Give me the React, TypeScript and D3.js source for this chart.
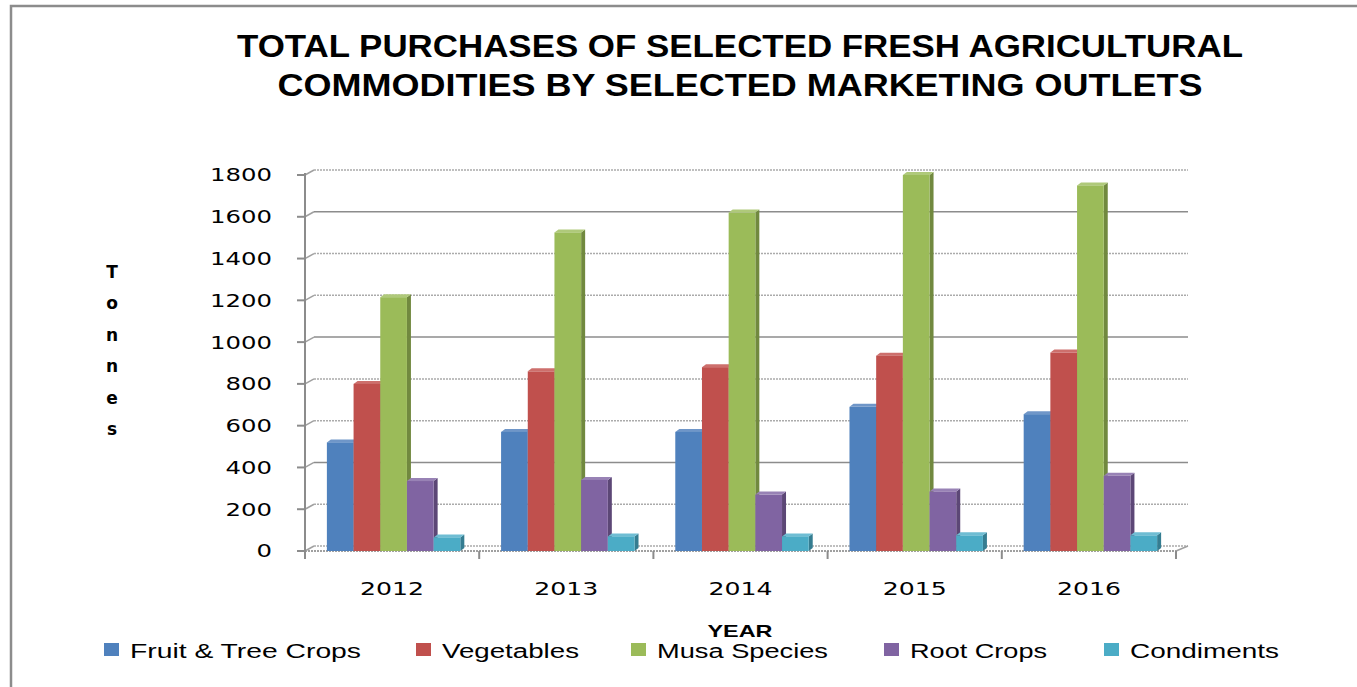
import * as d3 from "d3";

const years = ["2012", "2013", "2014", "2015", "2016"];
const seriesNames = ["Fruit & Tree Crops", "Vegetables", "Musa Species", "Root Crops", "Condiments"];
const fruitTree = [520, 570, 570, 690, 655];
const vegetables = [800, 860, 880, 935, 950];
const musa = [1215, 1525, 1620, 1800, 1750];
const rootCrops = [335, 340, 270, 285, 360];
const condiments = [65, 70, 70, 75, 75];
const yTicks = [0, 200, 400, 600, 800, 1000, 1200, 1400, 1600, 1800];
const titleLines = [
  "TOTAL PURCHASES OF SELECTED FRESH AGRICULTURAL",
  "COMMODITIES BY SELECTED MARKETING OUTLETS",
];

const seriesValues = [fruitTree, vegetables, musa, rootCrops, condiments];

// colors: front, side, top
const FRONT = ["#4f81bd", "#c0504d", "#9bbb59", "#8064a2", "#4bacc6"];
const SIDE = ["#385d8a", "#8c3836", "#71893f", "#5c4776", "#357d91"];
const TOP = ["#6f96c8", "#cd6f6c", "#afc97a", "#9882b5", "#6fbdd3"];

const W = 1357;
const H = 687;
const X0 = 305;
const X1 = 1176;
const DX = 9; // back wall offset
const DY = -5;
const BDX = 4; // bar depth
const BDY = -3;
const LEGEND_X = [104, 416, 631, 884, 1104];
const LEGEND_TEXT_W = [231, 137, 171, 137, 149];
const TICK_FONT = "'DejaVu Sans', Verdana, sans-serif";
const LABEL_FONT = "'Liberation Sans', Arial, sans-serif";

// grid lines that look solid in the original, the rest look dotted
const solidGrid = new Set([400, 1000, 1600]);

export default function App() {
  const y = d3.scaleLinear().domain([0, 1800]).range([551, 175]);
  const x = d3.scaleBand<string>().domain(years).range([X0, X1]).paddingInner(0.234).paddingOuter(0.117);
  const xs = d3.scaleBand<number>().domain(d3.range(seriesNames.length)).range([0, x.bandwidth()]);

  return (
    <svg width={W} height={H} style={{ position: "absolute", left: 0, top: 0, background: "#fff" }}>
      {/* frame */}
      <rect x={11} y={6} width={W + 20} height={H + 20} fill="none" stroke="#8c8c8c" strokeWidth={2.5} />

      {/* title */}
      {titleLines.map((t, i) => (
        <text
          key={t}
          x={740}
          y={57 + i * 39}
          textAnchor="middle"
          fontFamily={LABEL_FONT}
          fontWeight="bold"
          fontSize={32}
          textLength={i === 0 ? 1006 : 925}
          lengthAdjust="spacingAndGlyphs"
          fill="#000"
        >
          {t}
        </text>
      ))}

      {/* grid lines on back wall */}
      {yTicks.map((t) => (
        <g key={t}>
          <line
            x1={X0}
            x2={X0 + DX}
            y1={y(t)}
            y2={y(t) + DY}
            stroke="#a0a0a0"
            strokeWidth={1.5}
          />
          <line
            x1={X0 + DX}
            x2={X1 + 12}
            y1={y(t) + DY}
            y2={y(t) + DY}
            stroke={solidGrid.has(t) ? "#8c8c8c" : "#ababab"}
            strokeWidth={1.5}
            strokeDasharray={solidGrid.has(t) ? undefined : "2,1"}
          />
        </g>
      ))}

      {/* floor front edge */}
      <line x1={X0} x2={X1} y1={y(0)} y2={y(0)} stroke="#a0a0a0" strokeWidth={2} strokeDasharray="2,1" />
      <line x1={X1} x2={X1 + 12} y1={y(0)} y2={y(0) + DY} stroke="#a0a0a0" strokeWidth={1.5} />

      {/* bars */}
      {years.map((yr, ci) => (
        <g key={yr} transform={`translate(${(x(yr) ?? 0) + 1.5},0)`}>
          {seriesValues.map((vals, si) => {
            const v = vals[ci];
            const bx = xs(si) ?? 0;
            const bw = xs.bandwidth();
            const top = y(v);
            const bottom = y(0);
            return (
              <g key={si}>
                <polygon
                  points={`${bx + bw},${top} ${bx + bw + BDX},${top + BDY} ${bx + bw + BDX},${bottom + BDY} ${bx + bw},${bottom}`}
                  fill={SIDE[si]}
                />
                <polygon
                  points={`${bx},${top} ${bx + BDX},${top + BDY} ${bx + bw + BDX},${top + BDY} ${bx + bw},${top}`}
                  fill={TOP[si]}
                />
                <rect x={bx} y={top} width={bw} height={bottom - top} fill={FRONT[si]} />
              </g>
            );
          })}
        </g>
      ))}

      {/* y axis */}
      <line x1={X0} x2={X0} y1={y(1800) - 2} y2={y(0) + 3} stroke="#8c8c8c" strokeWidth={2} />
      {yTicks.map((t) => (
        <g key={t}>
          <line x1={X0 - 8} x2={X0} y1={y(t)} y2={y(t)} stroke="#8c8c8c" strokeWidth={2} />
          <text
            x={272}
            y={y(t)}
            dy="0.36em"
            textAnchor="end"
            fontFamily={TICK_FONT}
            fontSize={18}
            textLength={String(t).length * 15.5}
            lengthAdjust="spacingAndGlyphs"
            fill="#000"
          >
            {t}
          </text>
        </g>
      ))}

      {/* x axis ticks and labels */}
      {[...years.map((yr) => x(yr)! - x.step() * 0.117), X1].map((px, i) => (
        <line key={i} x1={px} x2={px} y1={y(0)} y2={y(0) + 8} stroke="#8c8c8c" strokeWidth={2} />
      ))}
      {years.map((yr) => (
        <text
          key={yr}
          x={(x(yr) ?? 0) + x.bandwidth() / 2}
          y={595}
          textAnchor="middle"
          fontFamily={TICK_FONT}
          fontSize={18}
          textLength={64}
          lengthAdjust="spacingAndGlyphs"
          fill="#000"
        >
          {yr}
        </text>
      ))}

      {/* axis titles */}
      <text
        x={740}
        y={637}
        textAnchor="middle"
        fontFamily={LABEL_FONT}
        fontWeight="bold"
        fontSize={17}
        textLength={65}
        lengthAdjust="spacingAndGlyphs"
      >
        YEAR
      </text>
      {"Tonnes".split("").map((ch, i) => (
        <text
          key={i}
          x={112}
          y={278 + i * 31.4}
          textAnchor="middle"
          fontFamily={TICK_FONT}
          fontWeight="bold"
          fontSize={17}
        >
          {ch}
        </text>
      ))}

      {/* legend */}
      {seriesNames.map((name, i) => (
        <g key={name}>
          <rect x={LEGEND_X[i]} y={643} width={15} height={13} fill={FRONT[i]} />
          <text
            x={LEGEND_X[i] + 26}
            y={658}
            fontFamily={LABEL_FONT}
            fontSize={20}
            textLength={LEGEND_TEXT_W[i]}
            lengthAdjust="spacingAndGlyphs"
            fill="#000"
          >
            {name}
          </text>
        </g>
      ))}
    </svg>
  );
}
